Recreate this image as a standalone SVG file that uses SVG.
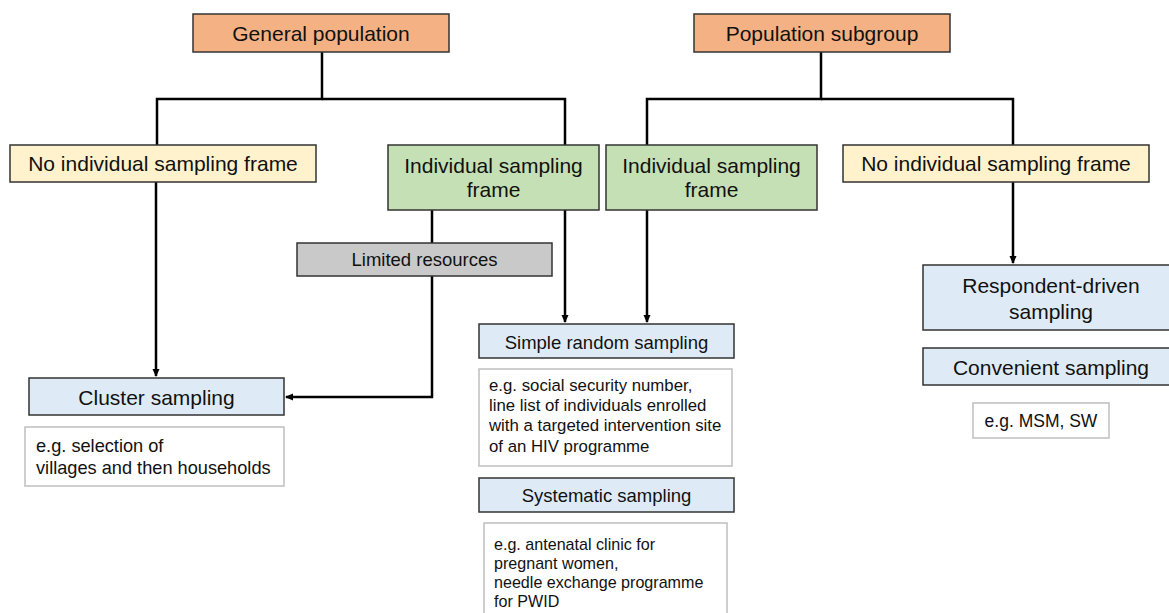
<svg xmlns="http://www.w3.org/2000/svg" width="1169" height="613" viewBox="0 0 1169 613">
<defs>
<style>
.box{stroke:#333333;stroke-width:1.5}
.ora{fill:#F4B183}
.yel{fill:#FFF2CC}
.grn{fill:#C5E0B4}
.gry{fill:#C9C9C9}
.blu{fill:#DEEBF7}
.ex{fill:#FFFFFF;stroke:#BFBFBF;stroke-width:1.5}
text{font-family:"Liberation Sans",Arial,sans-serif;fill:#111111}
.t21{font-size:21px;text-anchor:middle}
.t185{font-size:18.5px;text-anchor:middle}
.e18{font-size:18.2px}
.e17{font-size:16.8px}
.e16{font-size:16.1px}
.c{fill:none;stroke:#000000;stroke-width:2.5}
</style>
<marker id="arr" markerWidth="8" markerHeight="8" refX="7" refY="4" orient="auto" markerUnits="userSpaceOnUse">
<path d="M0,0.5 L8,4 L0,7.5 Z" fill="#000000"/>
</marker>
</defs>
<rect width="1169" height="613" fill="#FFFFFF"/>

<g id="connectors">
<path class="c" d="M322,52 V99 H157 V145"/>
<path class="c" d="M322,99 H565 V145"/>
<path class="c" d="M821,52 V99 H647 V145"/>
<path class="c" d="M821,99 H1013 V145"/>
<path class="c" d="M156,182 V376" marker-end="url(#arr)"/>
<path class="c" d="M432,210 V243"/>
<path class="c" d="M432,276 V397 H286" marker-end="url(#arr)"/>
<path class="c" d="M565,210 V322" marker-end="url(#arr)"/>
<path class="c" d="M647,210 V322" marker-end="url(#arr)"/>
<path class="c" d="M1013,182 V263" marker-end="url(#arr)"/>
</g>

<g id="general-population">
<rect class="box ora" x="193" y="14" width="256" height="38"/>
<text class="t21" x="321" y="40.5">General population</text>
</g>
<g id="population-subgroup">
<rect class="box ora" x="694" y="14" width="256" height="38"/>
<text class="t21" x="822" y="40.5">Population subgroup</text>
</g>

<g id="no-frame-left">
<rect class="box yel" x="10" y="145" width="306" height="37"/>
<text class="t21" x="163" y="171">No individual sampling frame</text>
</g>
<g id="frame-left">
<rect class="box grn" x="388" y="145" width="211" height="65"/>
<text class="t21" x="493.5" y="173">Individual sampling</text>
<text class="t21" x="493.5" y="197">frame</text>
</g>
<g id="frame-right">
<rect class="box grn" x="606" y="145" width="211" height="65"/>
<text class="t21" x="711.5" y="173">Individual sampling</text>
<text class="t21" x="711.5" y="197">frame</text>
</g>
<g id="no-frame-right">
<rect class="box yel" x="843" y="145" width="306" height="37"/>
<text class="t21" x="996" y="171">No individual sampling frame</text>
</g>

<g id="limited-resources">
<rect class="box gry" x="297" y="243" width="255" height="33"/>
<text class="t185" x="424.5" y="266">Limited resources</text>
</g>

<g id="cluster-sampling">
<rect class="box blu" x="29" y="378" width="255" height="37"/>
<text class="t21" x="156.5" y="405">Cluster sampling</text>
</g>
<g id="cluster-example">
<rect class="ex" x="25" y="427" width="259" height="59"/>
<text class="e18" x="36" y="452">e.g. selection of</text>
<text class="e18" x="36" y="473.5">villages and then households</text>
</g>

<g id="simple-random-sampling">
<rect class="box blu" x="479" y="324" width="255" height="34"/>
<text class="t185" x="606.5" y="348.5">Simple random sampling</text>
</g>
<g id="simple-random-example">
<rect class="ex" x="479" y="369" width="253" height="97"/>
<text class="e17" x="489" y="391">e.g. social security number,</text>
<text class="e17" x="489" y="411">line list of individuals enrolled</text>
<text class="e17" x="489" y="431">with a targeted intervention site</text>
<text class="e17" x="489" y="452">of an HIV programme</text>
</g>

<g id="systematic-sampling">
<rect class="box blu" x="479" y="478" width="255" height="34"/>
<text class="t185" x="606.5" y="501.5">Systematic sampling</text>
</g>
<g id="systematic-example">
<rect class="ex" x="484" y="523" width="243" height="100"/>
<text class="e16" x="494" y="550">e.g. antenatal clinic for</text>
<text class="e16" x="494" y="569">pregnant women,</text>
<text class="e16" x="494" y="588">needle exchange programme</text>
<text class="e16" x="494" y="607">for PWID</text>
</g>

<g id="respondent-driven-sampling">
<rect class="box blu" x="923" y="265" width="256" height="65"/>
<text class="t21" x="1051" y="293">Respondent-driven</text>
<text class="t21" x="1051" y="318.5">sampling</text>
</g>
<g id="convenient-sampling">
<rect class="box blu" x="923" y="348" width="256" height="37"/>
<text class="t21" x="1051" y="375">Convenient sampling</text>
</g>
<g id="convenient-example">
<rect class="ex" x="973" y="403" width="136" height="35"/>
<text x="1041" y="426.5" style="font-size:17.5px;text-anchor:middle">e.g. MSM, SW</text>
</g>
</svg>
